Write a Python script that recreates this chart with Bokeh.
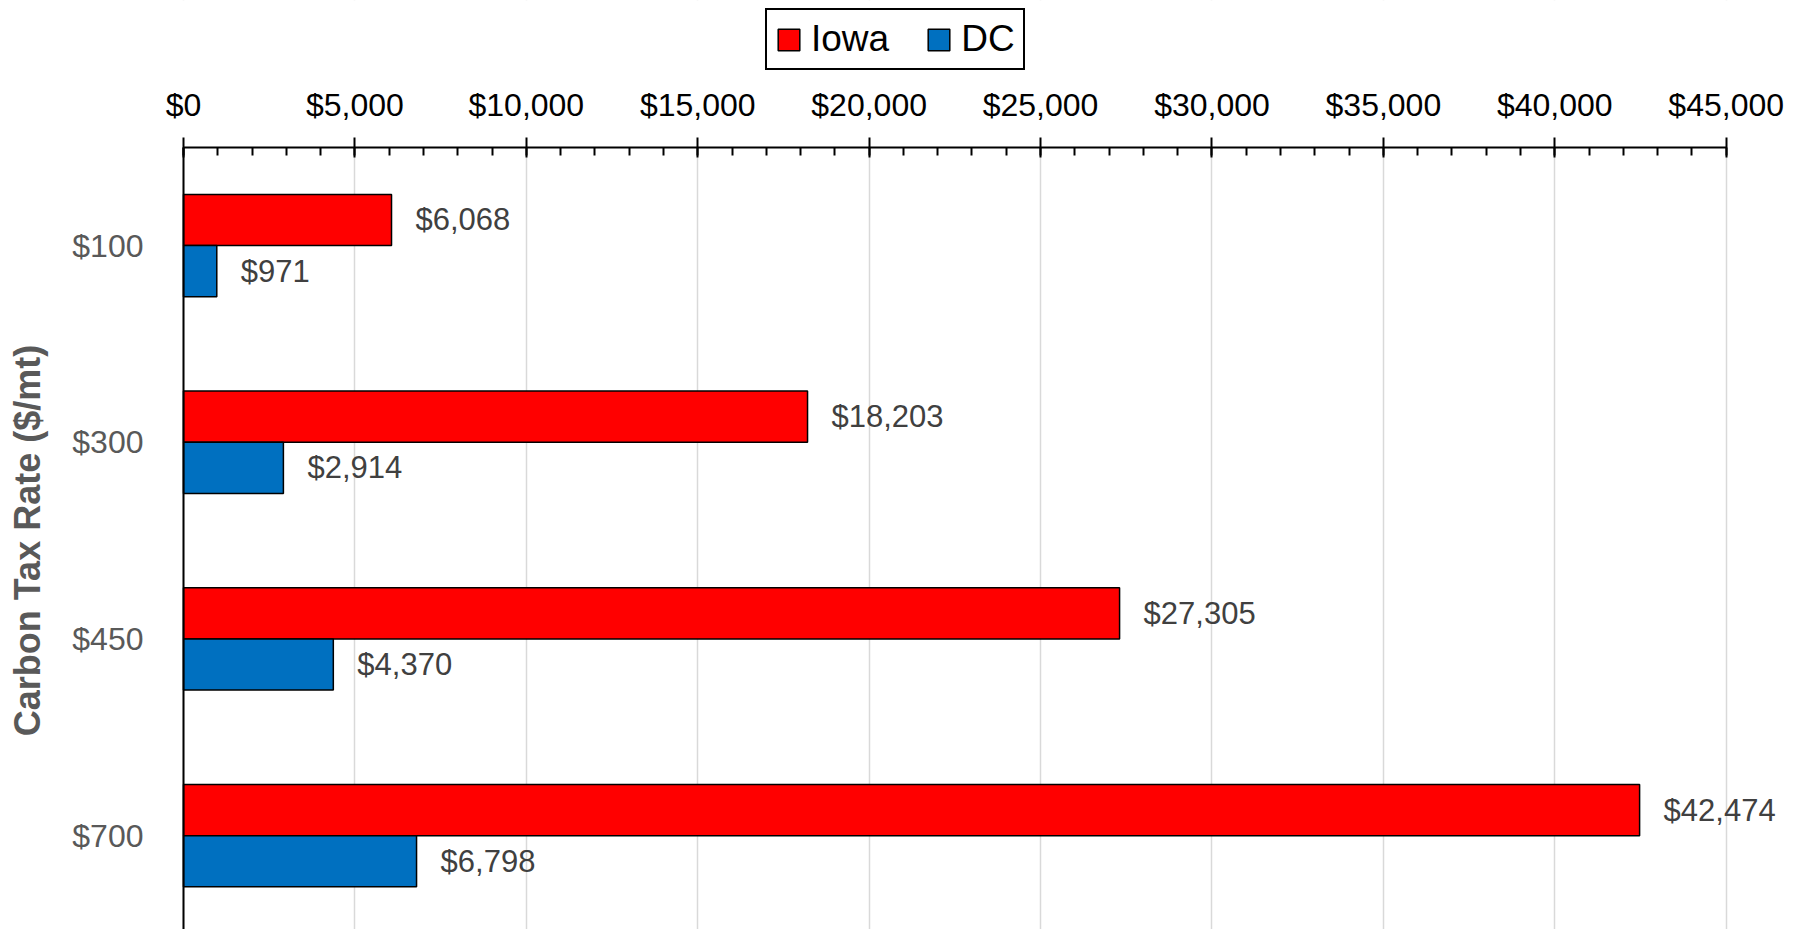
import math
from bokeh.plotting import figure
from bokeh.models import (Range1d, SingleIntervalTicker, FixedTicker, NumeralTickFormatter,
                          Legend, LegendItem, ColumnDataSource, BoxAnnotation, Label)
from bokeh.transform import dodge
from bokeh.core.properties import value
from bokeh.embed import file_html
from bokeh.resources import INLINE

# ---- data ----
categories = ["$100", "$300", "$450", "$700"]
iowa = [6068, 18203, 27305, 42474]
dc = [971, 2914, 4370, 6798]
series_names = ["Iowa", "DC"]
x_tick_step = 5000
x_max = 45000
y_title = "Carbon Tax Rate ($/mt)"

FONT = "Liberation Sans"

pos = list(range(len(categories)))
src = ColumnDataSource(dict(
    pos=pos, iowa=iowa, dc=dc,
    iowa_lbl=[f"${v:,}" for v in iowa],
    dc_lbl=[f"${v:,}" for v in dc],
))

# layout geometry (frame covers the whole figure; axes drawn at fixed locations)
fig_w, fig_h = 1800, 929
axis_left_px = 183                    # left axis line, from figure left
axis_px = 1542.7                      # pixels from $0 to $45,000
px_per_x = axis_px / x_max
x_start = -axis_left_px / px_per_x
x_end = (fig_w - axis_left_px) / px_per_x
cat_px = 196.7                        # pixels per category
axis_top_px = 146.7                   # top axis line, from figure top
y_top_edge = -0.5                     # data value where top axis sits
y_end = y_top_edge - axis_top_px / cat_px
y_start = y_top_edge + (fig_h - axis_top_px) / cat_px

p = figure(width=fig_w, height=fig_h, output_backend="svg", toolbar_location=None,
           x_range=Range1d(x_start, x_end), y_range=Range1d(y_start, y_end),
           x_axis_location="above", y_axis_location="left",
           min_border_left=0, min_border_right=0, min_border_top=0, min_border_bottom=0)
p.outline_line_color = None
p.background_fill_color = "white"
p.border_fill_color = "white"

# grid
p.xgrid.grid_line_color = "#D9D9D9"
p.xgrid.grid_line_width = 1.5
p.xgrid.bounds = (0, x_max)
p.ygrid.visible = False
# hide grid above the top axis
p.add_layout(BoxAnnotation(bottom=y_top_edge, top=y_end, fill_color="white", fill_alpha=1.0,
                           line_alpha=0, level="underlay"))

bar_h = 0.26
off = bar_h / 2
r1 = p.hbar(y=dodge("pos", -off), left=0, right="iowa", height=bar_h, source=src,
            fill_color="#FF0000", line_color="black", line_width=1.5)
r2 = p.hbar(y=dodge("pos", off), left=0, right="dc", height=bar_h, source=src,
            fill_color="#0070C0", line_color="black", line_width=1.5)

for col, lbl, o in (("iowa", "iowa_lbl", -off), ("dc", "dc_lbl", off)):
    p.text(x=col, y=dodge("pos", o), text=lbl, source=src, x_offset=24,
           text_baseline="middle", text_align="left",
           text_font=value(FONT), text_font_size="31px", text_color="#404040")

# x axis (top)
xa = p.xaxis[0]
xa.fixed_location = y_top_edge
xa.bounds = (0, x_max)
xa.ticker = SingleIntervalTicker(interval=x_tick_step, num_minor_ticks=5)
xa.formatter = NumeralTickFormatter(format="$0,0")
xa.major_label_overrides = {0: "$0"}
xa.major_label_text_font = FONT
xa.major_label_text_font_size = "32px"
xa.major_label_text_color = "black"
xa.axis_line_width = 2
xa.axis_line_color = "black"
xa.major_tick_line_width = 2
xa.major_tick_line_color = "black"
xa.major_tick_in = 10
xa.major_tick_out = 10
xa.minor_tick_in = 8
xa.minor_tick_out = 0
xa.minor_tick_line_width = 2
xa.minor_tick_line_color = "black"
xa.major_label_standoff = 14

# y axis (left)
ya = p.yaxis[0]
ya.fixed_location = 0
ya.bounds = (y_top_edge, y_start)
ya.ticker = FixedTicker(ticks=pos)
ya.major_label_overrides = {i: c for i, c in enumerate(categories)}
ya.major_label_text_font = FONT
ya.major_label_text_font_size = "32px"
ya.major_label_text_color = "#595959"
ya.axis_line_width = 2
ya.axis_line_color = "black"
ya.major_tick_in = 0
ya.major_tick_out = 0
ya.minor_tick_in = 0
ya.minor_tick_out = 0
ya.major_label_standoff = 40

# y axis title
p.add_layout(Label(x=x_start + 27 / px_per_x, y=y_end + 540 / cat_px, text=y_title,
                   angle=math.pi / 2, text_align="center", text_baseline="middle",
                   text_font=FONT, text_font_size="36px", text_font_style="bold",
                   text_color="#595959"))

legend = Legend(items=[LegendItem(label=series_names[0], renderers=[r1]),
                       LegendItem(label=series_names[1], renderers=[r2])],
                orientation="horizontal", location=(765, 859),
                label_text_font=FONT, label_text_font_size="37px", label_text_color="black",
                glyph_width=27, glyph_height=27, label_standoff=9, spacing=36,
                padding=8, margin=0, border_line_color="black", border_line_width=2,
                border_line_alpha=1.0,
                background_fill_color="white", background_fill_alpha=1.0)
p.add_layout(legend)

open("out.html", "w").write(file_html(p, INLINE))
